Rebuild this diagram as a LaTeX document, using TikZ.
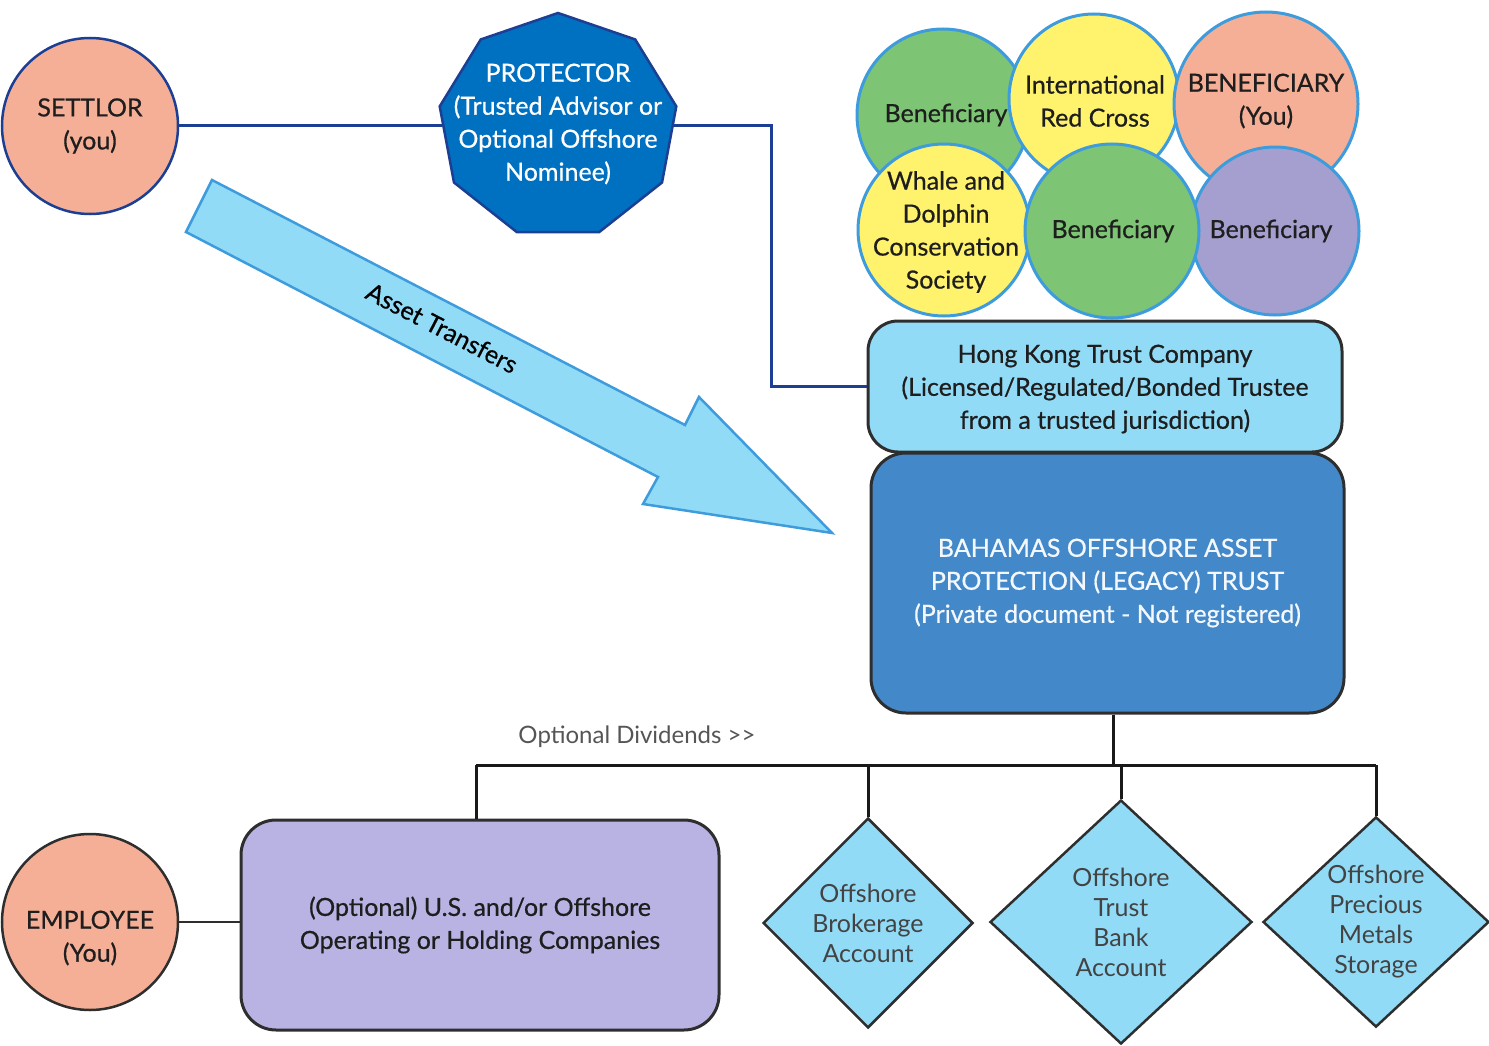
\documentclass[tikz,border=0pt]{standalone}
\usepackage{fontspec}
\setmainfont{Lato}
\newfontfamily\latomed{Lato}[FakeBold=0.6]
\usetikzlibrary{shapes.geometric}

\definecolor{salmon}{HTML}{F6AF97}
\definecolor{navyline}{HTML}{1C3F94}
\definecolor{protblue}{HTML}{0070C0}
\definecolor{benefgreen}{HTML}{7DC474}
\definecolor{benefyellow}{HTML}{FFF36D}
\definecolor{benefpurple}{HTML}{A59FCF}
\definecolor{ringblue}{HTML}{3F9CDC}
\definecolor{paleblue}{HTML}{92DBF7}
\definecolor{trustblue}{HTML}{4389CA}
\definecolor{lavender}{HTML}{B8B3E3}
\definecolor{darkedge}{HTML}{2E2E2E}
\definecolor{inkgray}{HTML}{1E1E1E}
\definecolor{softgray}{HTML}{555555}

\begin{document}
\begin{tikzpicture}[x=1pt,y=-1pt,
  txt/.style={font=\latomed\fontsize{25}{33}\selectfont, align=center, text=inkgray},
  lighttxt/.style={font=\fontsize{25}{30}\selectfont, align=center},
  person/.style={circle, draw, line width=2.5pt, fill=salmon, minimum size=176pt, inner sep=0pt, txt},
  benef/.style={circle, draw=ringblue, line width=3pt, inner sep=0pt},
  roundbox/.style={rectangle, draw=darkedge, line width=3pt, inner sep=0pt, txt},
  account/.style={diamond, draw=darkedge, line width=2.5pt, fill=paleblue, inner sep=0pt,
    lighttxt, text=darkedge!90},
  navy/.style={draw=navyline, line width=3pt},
  busline/.style={draw=black!90, line width=3pt},
]
\useasboundingbox (0,0) rectangle (1489,1046);

% ---- settlor and protector ----
\node[person, draw=navyline] (settlor) at (90,126) {SETTLOR\\(you)};
\node[regular polygon, regular polygon sides=9, minimum size=226pt, inner sep=0pt,
  draw=navyline, line width=2.5pt, fill=protblue, xscale=1.063, transform shape]
  (prot) at (558,126) {};
\node[txt, text=white] (prottext) at (558,124)
  {PROTECTOR\\(Trusted Advisor or\\Optional Offshore\\Nominee)};

% ---- beneficiaries (each circle with its name, later ones overlapping earlier) ----
\node[benef, fill=benefgreen, minimum size=172pt] (b1) at (943,115) {};
\node[txt] (b1text) at (946,115) {Beneficiary};
\node[benef, fill=benefyellow, minimum size=170pt] (b2) at (1094,99) {};
\node[txt] (b2text) at (1095,101) {International\\Red Cross};
\node[benef, fill=salmon, minimum size=184pt] (b3) at (1266,104) {};
\node[txt] (b3text) at (1266,101) {BENEFICIARY\\(You)};
\node[benef, fill=benefyellow, minimum size=172pt] (b4) at (944,230) {};
\node[txt] (b4text) at (946,232) {Whale and\\Dolphin\\Conservation\\Society};
\node[benef, fill=benefpurple, minimum size=168pt] (b6) at (1275,231) {};
\node[txt] (b6text) at (1271,231) {Beneficiary};
\node[benef, fill=benefgreen, minimum size=174pt] (b5) at (1112,231) {};
\node[txt] (b5text) at (1113,231) {Beneficiary};

% ---- trustee and trust ----
\node[roundbox, fill=paleblue, rounded corners=30pt, minimum width=474pt, minimum height=131pt]
  (hk) at (1105,386.5) {};
\node[txt] (hktext) at (1105,389)
  {Hong Kong Trust Company\\(Licensed/Regulated/Bonded Trustee\\from a trusted jurisdiction)};
\node[roundbox, fill=trustblue, rounded corners=35pt, minimum width=473pt, minimum height=260pt,
  text=white!94!trustblue] (trust) at (1107.5,583)
  {BAHAMAS OFFSHORE ASSET\\PROTECTION (LEGACY) TRUST\\(Private document - Not registered)};

% ---- links from the settlor side ----
\coordinate (bend) at (771,126);
\draw[navy] (settlor) -- (prot);
\draw[navy] (prot.east) -- (bend) |- (hk.west);

% ---- asset transfer arrow ----
\draw[fill=paleblue, draw=ringblue, line width=2.5pt, line join=miter]
  (212,180) -- (685,425) -- (699,397) -- (832,533) -- (643,504) -- (658,477) -- (186,232) -- cycle;
\node[txt, text=black, rotate=-27.4] (transfer) at (442,328) {Asset Transfers};

% ---- holdings ----
\node[person, draw=darkedge] (employee) at (90,922) {};
\node[txt] (emptext) at (90,938) {EMPLOYEE\\(You)};
\node[roundbox, fill=lavender, rounded corners=35pt, minimum width=478pt, minimum height=210pt]
  (company) at (480,925)
  {(Optional) U.S. and/or Offshore\\Operating or Holding Companies};
\draw[draw=darkedge, line width=2.5pt] (employee.east) -- (employee.east -| company.west);

\node[account, minimum width=210pt, minimum height=210pt] (d1) at (868,923)
  {Offshore\\Brokerage\\Account};
\node[account, minimum width=262pt, minimum height=244pt] (d2) at (1121,922)
  {Offshore\\Trust\\Bank\\Account};
\node[account, minimum width=226pt, minimum height=210pt] (d3) at (1376,922)
  {Offshore\\Precious\\Metals\\Storage};

\coordinate (busL) at (476,765);
\coordinate (busR) at (1376,765);
\coordinate (hub) at (1113,765);
\draw[busline] (hub |- trust.south) -- (hub);
\draw[busline] (busL) -- (busR);
\draw[busline] (busL) -- (busL |- company.north);
\draw[busline] (d1.north |- busL) -- (d1.north);
\draw[busline] (d2.north |- busL) -- (d2.north);
\draw[busline] (d3.north |- busL) -- (d3.north);

\node[lighttxt, text=softgray, font=\fontsize{24}{30}\selectfont] (divlabel) at (637,737)
  {Optional Dividends >{}>};
\end{tikzpicture}
\end{document}
